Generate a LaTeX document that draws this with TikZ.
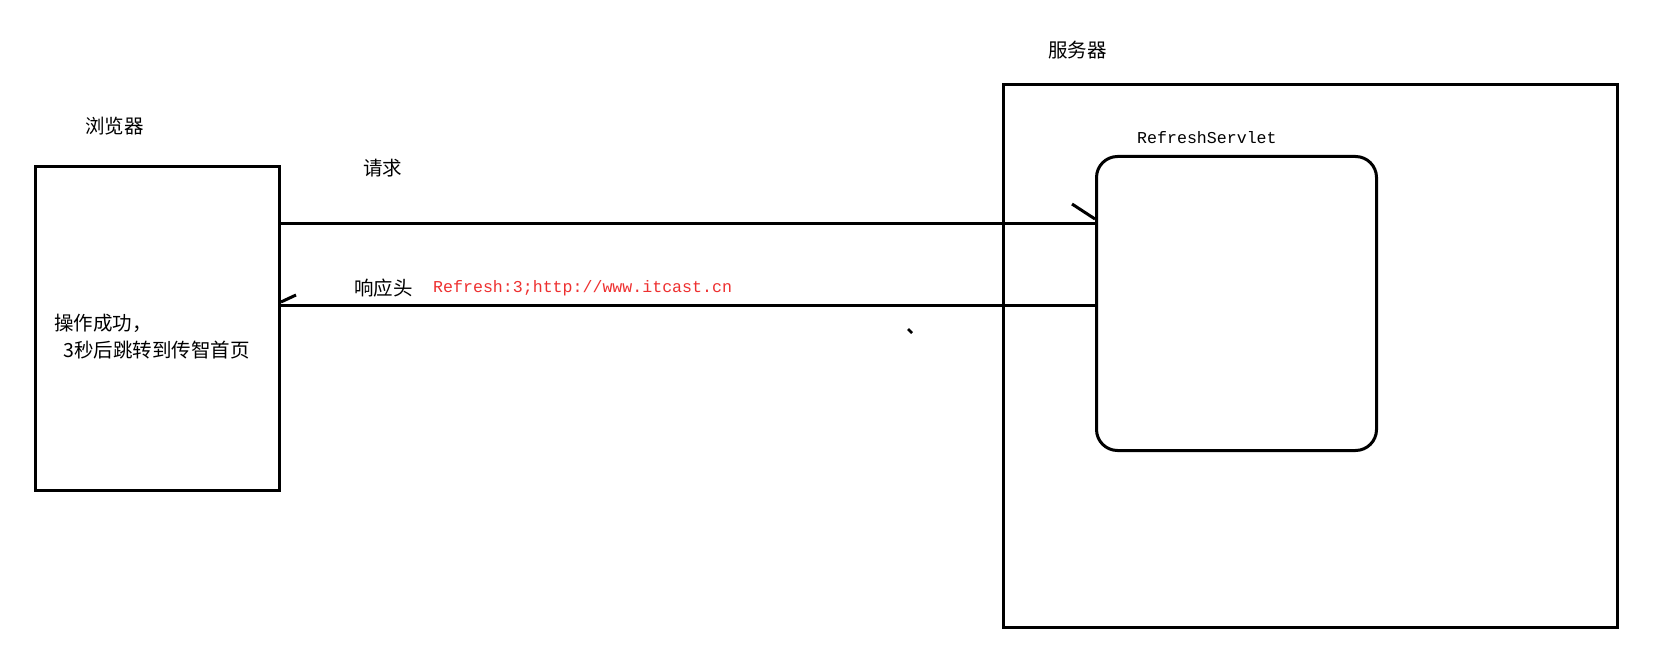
\documentclass[tikz,border=0pt]{standalone}
\usepackage{fontspec}
\newfontfamily\cjk{Noto Sans CJK SC}
\setmonofont{Liberation Mono}
\usetikzlibrary{calc}
\definecolor{hdrred}{RGB}{238,48,48}
\begin{document}
\begin{tikzpicture}[x=1pt,y=-1pt,
  box/.style={draw=black,line width=3pt,inner sep=0pt,anchor=north west},
  conn/.style={draw=black,line width=3pt},
  barb/.style={draw=black,line width=3pt},
  cn/.style={font=\cjk\fontsize{19.5}{22}\selectfont,inner sep=0pt,anchor=west},
  mono/.style={font=\ttfamily\fontsize{16.6}{20}\selectfont,inner sep=0pt,anchor=west}]
  \useasboundingbox[fill=white] (0,0) rectangle (1672,652);

  % browser and server boxes
  \node[box,minimum width=244pt,minimum height=324pt] (browser) at (34,165) {};
  \node[box,minimum width=614pt,minimum height=543pt] (server) at (1002,83) {};
  \node[box,rounded corners=21pt,minimum width=280pt,minimum height=294pt] (servlet) at (1095,155) {};

  % labels
  \node[cn] (lblBrowser) at (85,126) {浏览器};
  \node[cn] (lblServer) at (1048,50) {服务器};
  \node[mono] (lblServlet) at (1137,138) {RefreshServlet};
  \node[cn] (lblReq) at (363,168) {请求};
  \node[cn] (lblResp) at (354,288) {响应头};
  \node[mono,text=hdrred] (lblHdr) at (433,288) {Refresh:3;http://www.itcast.cn};
  \node[cn] (msg1) at (54,323) {操作成功，};
  \node[cn] (msg2) at (63,350) {3秒后跳转到传智首页};

  % request: browser -> servlet
  \coordinate (reqA) at (browser.east |- 0,224);
  \coordinate (reqB) at (servlet.west |- 0,224);
  \draw[conn] (reqA) -- (reqB);
  \draw[barb] ($(reqB)+(-23,-20)$) -- ($(reqB)+(0,-5)$);

  % response: servlet -> browser
  \coordinate (resA) at (servlet.west |- 0,305);
  \coordinate (resB) at (browser.east |- 0,305);
  \draw[conn] (resA) -- (resB);
  \draw[barb] ($(resB)+(0,-3)$) -- ($(resB)+(15,-10)$);

  % stray mark
  \coordinate (dot) at (910,331);
  \draw[line width=2.5pt] ($(dot)+(-2,-2)$) -- ($(dot)+(2,2)$);
\end{tikzpicture}
\end{document}
